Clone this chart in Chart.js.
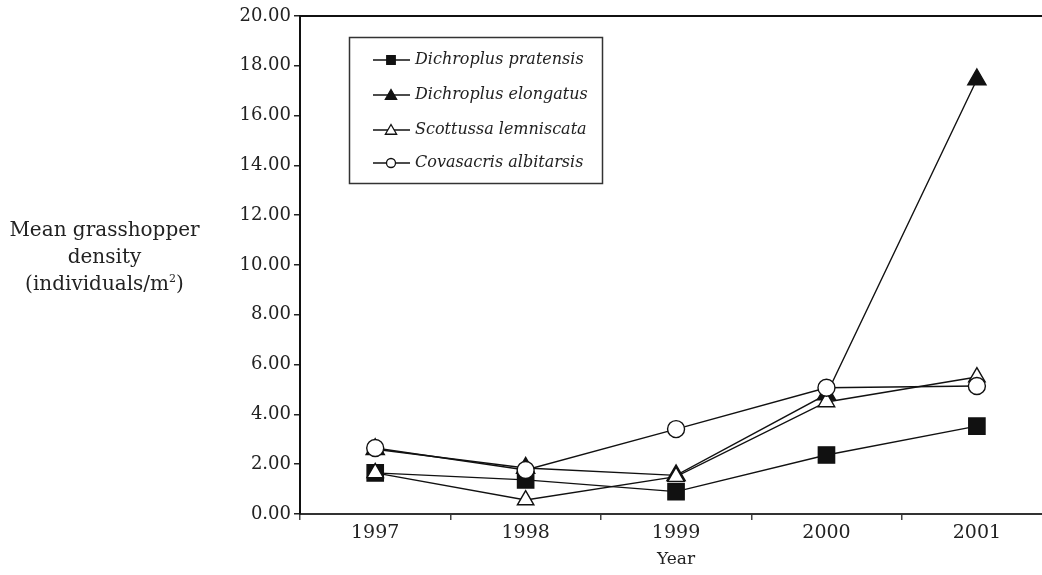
<!DOCTYPE html>
<html>
<head>
<meta charset="utf-8">
<script src="https://cdn.jsdelivr.net/npm/chart.js@4.4.1/dist/chart.umd.min.js"></script>
<style>
  html, body { margin: 0; padding: 0; background: #fff; overflow: hidden; }
  #wrap { position: relative; width: 1042px; height: 575px; overflow: hidden; }
  #c { position: absolute; left: 0; top: 0; }
  #ylab { position: absolute; left: 0; top: 216px; width: 209px; text-align: center;
          font-family: "DejaVu Serif", serif; font-size: 20px; line-height: 27px; color: #222; }
  #ylab sup { font-size: 11px; vertical-align: 8px; line-height: 0; }
</style>
</head>
<body>
<div id="wrap">
  <canvas id="c" width="1065" height="575"></canvas>
  <div id="ylab">Mean grasshopper<br>density<br>(individuals/m<sup>2</sup>)</div>
</div>
<script>
// ---- data ----
const years = ["1997", "1998", "1999", "2000", "2001"];
const dichroplusPratensis = [1.65, 1.37, 0.90, 2.37, 3.53];
const dichroplusElongatus = [2.60, 1.85, 1.55, 4.80, 17.45];
const scottussaLemniscata = [1.65, 0.56, 1.50, 4.50, 5.50];
const covasacrisAlbitarsis = [2.65, 1.77, 3.41, 5.07, 5.14];
const seriesNames = ["Dichroplus pratensis", "Dichroplus elongatus", "Scottussa lemniscata", "Covasacris albitarsis"];
const yTicks = [0, 2, 4, 6, 8, 10, 12, 14, 16, 18, 20];

const INK = '#111';
const styles = [
  { pointStyle: 'rect', radius: 11.5, fill: INK, legendR: 6 },
  { pointStyle: 'triangle', radius: 10.5, fill: INK, legendR: 6.5 },
  { pointStyle: 'triangle', radius: 9.5, fill: '#fff', legendR: 6.5 },
  { pointStyle: 'circle', radius: 8.5, fill: '#fff', legendR: 4.5 }
];
const seriesData = [dichroplusPratensis, dichroplusElongatus, scottussaLemniscata, covasacrisAlbitarsis];

const datasets = seriesData.map((d, i) => ({
  label: seriesNames[i],
  data: d,
  borderColor: INK,
  borderWidth: 1.4,
  pointStyle: styles[i].pointStyle,
  pointRadius: styles[i].radius,
  pointHoverRadius: styles[i].radius,
  pointBackgroundColor: styles[i].fill,
  pointBorderColor: INK,
  pointBorderWidth: 1.4,
  tension: 0,
  fill: false,
  order: 4 - i
}));

function drawMarker(ctx, style, r, x, y, fillColor) {
  ctx.beginPath();
  if (style === 'rect') {
    const s = Math.SQRT1_2 * r;
    ctx.rect(x - s, y - s, 2 * s, 2 * s);
  } else if (style === 'triangle') {
    ctx.moveTo(x, y - r);
    ctx.lineTo(x + 0.866 * r, y + 0.5 * r);
    ctx.lineTo(x - 0.866 * r, y + 0.5 * r);
    ctx.closePath();
  } else {
    ctx.arc(x, y, r, 0, Math.PI * 2);
  }
  ctx.fillStyle = fillColor;
  ctx.fill();
  ctx.lineWidth = 1.3;
  ctx.strokeStyle = INK;
  ctx.stroke();
}

const legendBox = {
  id: 'legendBox',
  afterDraw(chart) {
    const ctx = chart.ctx;
    ctx.save();
    ctx.fillStyle = '#fff';
    ctx.fillRect(349, 37, 253, 146);
    ctx.lineWidth = 1.5;
    ctx.strokeStyle = '#333';
    ctx.strokeRect(349.5, 37.5, 253, 146);
    const rows = [60, 95, 130, 163];
    seriesNames.forEach((name, i) => {
      const y = rows[i];
      ctx.beginPath();
      ctx.moveTo(373, y);
      ctx.lineTo(410, y);
      ctx.lineWidth = 1.4;
      ctx.strokeStyle = INK;
      ctx.stroke();
      drawMarker(ctx, styles[i].pointStyle, styles[i].legendR, 391, y + (styles[i].pointStyle === 'triangle' ? 1 : 0), styles[i].fill);
      ctx.fillStyle = '#222';
      ctx.font = 'italic 16px "DejaVu Serif", serif';
      ctx.textBaseline = 'middle';
      ctx.textAlign = 'left';
      ctx.fillText(name, 415, y);
    });
    ctx.restore();
  }
};

new Chart(document.getElementById('c'), {
  type: 'line',
  data: { labels: years, datasets: datasets },
  options: {
    responsive: false,
    animation: false,
    devicePixelRatio: 1,
    layout: { padding: { left: 0, right: 8, top: 0, bottom: 0 } },
    plugins: { legend: { display: false }, tooltip: { enabled: false } },
    scales: {
      x: {
        type: 'category',
        position: 'bottom',
        offset: true,
        afterFit(scale) { scale.height = 61; },
        grid: { offset: true, drawOnChartArea: false, drawTicks: true, tickLength: 6, color: '#444', lineWidth: 1.5 },
        border: { display: true, color: '#333', width: 2 },
        ticks: { color: '#222', padding: 2, font: { family: '"DejaVu Serif", serif', size: 19 } },
        title: { display: true, text: 'Year', color: '#222', font: { family: '"DejaVu Serif", serif', size: 17, lineHeight: 1.4 } }
      },
      x2: {
        type: 'category',
        position: 'top',
        labels: years,
        offset: true,
        afterFit(scale) { scale.height = 16; },
        grid: { display: false, drawOnChartArea: false, drawTicks: false },
        border: { display: true, color: '#111', width: 2 },
        ticks: { display: false }
      },
      y: {
        min: 0,
        max: 20,
        afterFit(scale) { scale.width = 300; },
        afterBuildTicks(scale) { scale.ticks = yTicks.map(v => ({ value: v })); },
        grid: { drawOnChartArea: false, drawTicks: true, tickLength: 6, color: '#222', lineWidth: 1.5 },
        border: { display: true, color: '#111', width: 2 },
        ticks: {
          color: '#222', padding: 3,
          font: { family: '"DejaVu Serif", serif', size: 18 },
          callback: (v) => Number(v).toFixed(2)
        }
      }
    }
  },
  plugins: [legendBox]
});
</script>
</body>
</html>
